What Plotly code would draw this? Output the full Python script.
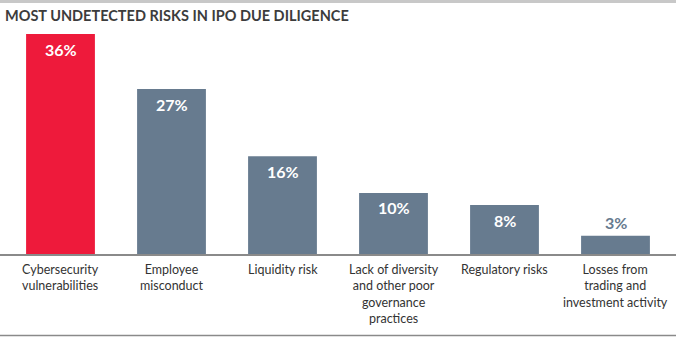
import plotly.graph_objects as go

categories = ["Cybersecurity<br>vulnerabilities", "Employee<br>misconduct", "Liquidity risk",
              "Lack of diversity<br>and other poor<br>governance<br>practices", "Regulatory risks",
              "Losses from<br>trading and<br>investment activity"]
values = [36, 27, 16, 10, 8, 3]
labels = ["36%", "27%", "16%", "10%", "8%", "3%"]
title = "MOST UNDETECTED RISKS IN IPO DUE DILIGENCE"

RED = "#EE1A3B"
BLUE = "#677B8F"
colors = [RED] + [BLUE] * 5
FONT = "Lato"
H = 224.0  # plot area height in px (top 30, bottom 83)

x = list(range(len(values)))
fig = go.Figure(go.Bar(x=x, y=values, marker=dict(color=colors, line=dict(width=0)),
                       width=0.62, hoverinfo="skip"))

ann = []
for i, (v, t) in enumerate(zip(values, labels)):
    inside = v >= 5
    ann.append(dict(x=i, y=v, xref="x", yref="y", text="<b>%s</b>" % t, showarrow=False,
                    yanchor="middle", yshift=-15 if inside else 13,
                    font=dict(family=FONT, size=16, color="white" if inside else BLUE)))
    ann.append(dict(x=i, y=-6 / H, xref="x", yref="paper", text=categories[i], showarrow=False,
                    yanchor="top", align="center",
                    font=dict(family=FONT, size=12.5, color="#333333")))

ann.append(dict(x=3 / 676, y=(254 - 15.5) / H, xref="paper", yref="paper", xanchor="left",
                yanchor="middle", text="<b>%s</b>" % title, showarrow=False,
                font=dict(family=FONT, size=14.5, color="#3c3c3c")))

fig.update_layout(
    width=676, height=337, margin=dict(l=0, r=0, t=30, b=83),
    paper_bgcolor="white", plot_bgcolor="white",
    xaxis=dict(range=[-0.545, 5.545], showticklabels=False, ticks="", showgrid=False,
               zeroline=False, showline=True, linecolor="#8a8a8a", linewidth=1.5, fixedrange=True),
    yaxis=dict(range=[0, 36.66], visible=False, fixedrange=True),
    showlegend=False, annotations=ann,
)
fig.add_shape(type="line", xref="paper", yref="paper", x0=0, x1=1,
              y0=(254 - 1.5) / H, y1=(254 - 1.5) / H, line=dict(color="#c8c8c8", width=3))
fig.add_shape(type="line", xref="paper", yref="paper", x0=0, x1=1,
              y0=(254 - 335.5) / H, y1=(254 - 335.5) / H, line=dict(color="#8a8a8a", width=1.5))

fig.write_html("out.html", config={"displayModeBar": False})
